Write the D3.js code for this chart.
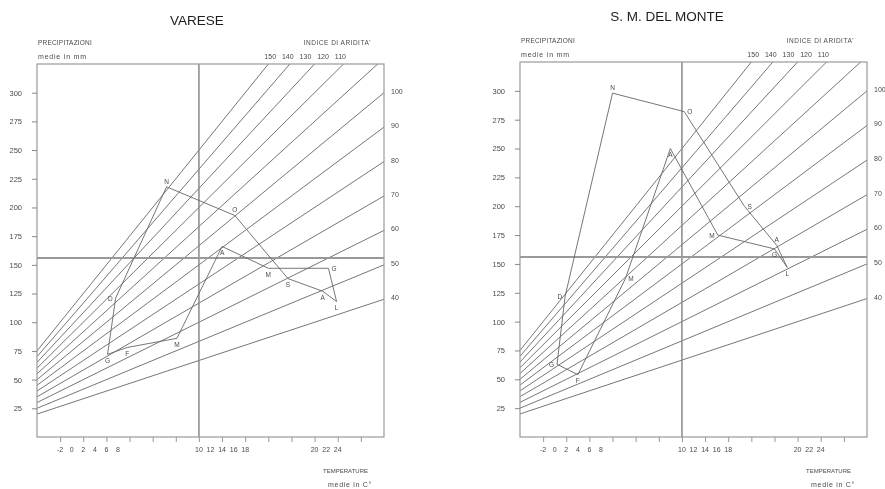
<!DOCTYPE html>
<html>
<head>
<meta charset="utf-8">
<script src="https://cdn.jsdelivr.net/npm/d3@7"></script>
<style>
  body { margin: 0; background: #fff; }
  svg { display: block; will-change: transform; }
  text { font-family: "Liberation Sans", Arial, sans-serif; }
</style>
</head>
<body>
<svg id="chart" width="885" height="489"></svg>
<script>
// Monthly climate diagrams (De Martonne aridity index i = 12p / (t + 10))
const months = ["G", "F", "M", "A", "M", "G", "L", "A", "S", "O", "N", "D"];

// Varese: mean monthly temperature (°C) and precipitation (mm)
const vareseTemp = [2.1, 3.8, 8.1, 12.0, 16.0, 21.2, 21.9, 20.7, 17.7, 13.1, 7.2, 2.8];
const vareseRain = [72, 78, 86, 166, 147, 147, 118, 127, 138, 193, 218, 121];

// S. M. del Monte: mean monthly temperature (°C) and precipitation (mm)
const monteTemp = [-0.8, 1.0, 5.1, 9.0, 13.1, 18.0, 19.1, 18.2, 15.4, 10.2, 4.0, -0.1];
const monteRain = [63, 54, 137, 250, 175, 163, 147, 166, 200, 282, 298, 122];

// Iso-lines of the aridity index
const aridityIndex = [150, 140, 130, 120, 110, 100, 90, 80, 70, 60, 50, 40];

// Axis ticks
const rainTicks = [25, 50, 75, 100, 125, 150, 175, 200, 225, 250, 275, 300];
const tempTicks = [-2, 0, 2, 4, 6, 8, 10, 12, 14, 16, 18, 20, 22, 24];
const tempLabelGroups = [[-2, 0, 2, 4, 6, 8], [10, 12, 14, 16, 18], [20, 22, 24]];

// Reference lines
const refTemp = 10;
const refRain = 156;

// Which side of each monthly vertex its initial sits on
const vareseLabelSide = ["below", "below", "below", "below", "below", "right", "below", "below", "below", "above", "above", "left"];
const monteLabelSide = ["left", "below", "right", "below", "left", "below", "below", "above", "right", "right", "above", "left"];

const tempDomain = [-4, 26];
const rainDomain = [0, 325];

const panels = [
  { title: "VARESE", temp: vareseTemp, rain: vareseRain, sides: vareseLabelSide, left: 37, top: 64, titleX: 197, titleY: 25 },
  { title: "S. M. DEL MONTE", temp: monteTemp, rain: monteRain, sides: monteLabelSide, left: 520, top: 62, titleX: 667, titleY: 21 }
];

const sideOffset = {
  below: [0, 8.5, "middle"],
  above: [0, -3, "middle"],
  left: [-3, 2.5, "end"],
  right: [3, 2.5, "start"]
};

const plotWidth = 347;
const plotBottom = 437;
const svg = d3.select("#chart");
const textGrey = "#4a4a4a";

panels.forEach((panel, pi) => {
  const right = panel.left + plotWidth;
  const x = d3.scaleLinear().domain(tempDomain).range([panel.left, right]);
  const y = d3.scaleLinear().domain(rainDomain).range([plotBottom, panel.top]);
  const g = svg.append("g");

  const clipId = "plot-clip-" + pi;
  svg.append("clipPath").attr("id", clipId)
    .append("rect")
    .attr("x", panel.left).attr("y", panel.top)
    .attr("width", plotWidth).attr("height", plotBottom - panel.top);

  // Title
  g.append("text")
    .attr("x", panel.titleX).attr("y", panel.titleY)
    .attr("text-anchor", "middle")
    .attr("font-size", 13.5).attr("fill", "#1e1e1e")
    .text(panel.title);

  // Aridity index iso-lines: p = I * (t + 10) / 12
  const isoLine = d3.line().x(d => x(d[0])).y(d => y(d[1]));
  const plot = g.append("g").attr("clip-path", `url(#${clipId})`);
  plot.selectAll("path.iso")
    .data(aridityIndex)
    .join("path")
    .attr("class", "iso")
    .attr("d", I => isoLine(tempDomain.map(t => [t, I * (t + 10) / 12])))
    .attr("fill", "none")
    .attr("stroke", "#666")
    .attr("stroke-width", 0.9);

  // Reference lines
  plot.append("line")
    .attr("x1", x(refTemp)).attr("x2", x(refTemp))
    .attr("y1", panel.top).attr("y2", plotBottom)
    .attr("stroke", "#888").attr("stroke-width", 1.5);
  plot.append("line")
    .attr("x1", panel.left).attr("x2", right)
    .attr("y1", y(refRain)).attr("y2", y(refRain))
    .attr("stroke", "#999").attr("stroke-width", 2);

  // Frame
  g.append("rect")
    .attr("x", panel.left).attr("y", panel.top)
    .attr("width", plotWidth).attr("height", plotBottom - panel.top)
    .attr("fill", "none").attr("stroke", "#999").attr("stroke-width", 1.2);

  // Precipitation axis
  const yAxis = g.append("g")
    .attr("transform", `translate(${panel.left},0)`)
    .call(d3.axisLeft(y).tickValues(rainTicks).tickSize(5).tickPadding(10));
  yAxis.select(".domain").remove();
  yAxis.selectAll("line").attr("stroke", "#888");
  yAxis.selectAll("text").attr("font-size", 7.5).attr("fill", textGrey)
    .attr("font-family", "Liberation Sans, Arial, sans-serif");

  // Temperature axis (tick marks only; labels set in groups below)
  const xAxis = g.append("g")
    .attr("transform", `translate(0,${plotBottom})`)
    .call(d3.axisBottom(x).tickValues(tempTicks).tickSize(5).tickFormat(""));
  xAxis.select(".domain").remove();
  xAxis.selectAll("line").attr("stroke", "#999");

  tempLabelGroups.forEach(group => {
    g.selectAll(null)
      .data(group)
      .join("text")
      .attr("x", v => x(group[0] + (v - group[0]) / 2))
      .attr("y", plotBottom + 15)
      .attr("text-anchor", "middle")
      .attr("font-size", 7).attr("fill", textGrey)
      .text(v => v);
  });

  // Index labels: those leaving through the top, and those reaching the right edge
  const tMax = tempDomain[1];
  const topLabels = aridityIndex.filter(I => I * (tMax + 10) / 12 > rainDomain[1]);
  const sideLabels = aridityIndex.filter(I => I * (tMax + 10) / 12 <= rainDomain[1]);

  g.selectAll("text.side")
    .data(sideLabels)
    .join("text")
    .attr("class", "side")
    .attr("x", right + 7)
    .attr("y", I => y(I * (tMax + 10) / 12) + 1)
    .attr("font-size", 7).attr("fill", textGrey)
    .text(I => I);

  g.append("text")
    .attr("x", right - 38).attr("y", panel.top - 5)
    .attr("text-anchor", "end")
    .attr("font-size", 7).attr("word-spacing", 4).attr("fill", textGrey)
    .text(topLabels.join(" "));

  g.append("text")
    .attr("x", right - 13).attr("y", panel.top - 19)
    .attr("text-anchor", "end")
    .attr("font-size", 6.5).attr("letter-spacing", 0.5).attr("fill", textGrey)
    .text("INDICE DI ARIDITA'");

  g.append("text")
    .attr("x", panel.left + 1).attr("y", panel.top - 19)
    .attr("font-size", 6.5).attr("letter-spacing", 0.2).attr("fill", textGrey)
    .text("PRECIPITAZIONI");
  g.append("text")
    .attr("x", panel.left + 1).attr("y", panel.top - 5)
    .attr("font-size", 7).attr("letter-spacing", 0.8).attr("fill", textGrey)
    .text("medie in mm");

  g.append("text")
    .attr("x", right - 16).attr("y", plotBottom + 36)
    .attr("text-anchor", "end")
    .attr("font-size", 6).attr("fill", textGrey)
    .text("TEMPERATURE");
  g.append("text")
    .attr("x", right - 12).attr("y", plotBottom + 50)
    .attr("text-anchor", "end")
    .attr("font-size", 7).attr("letter-spacing", 0.7).attr("fill", textGrey)
    .text("medie in C°");

  // Monthly climate polygon
  const pts = panel.temp.map((t, i) => [x(t), y(panel.rain[i])]);
  g.append("path")
    .attr("d", d3.line().curve(d3.curveLinearClosed)(pts))
    .attr("fill", "none")
    .attr("stroke", "#666")
    .attr("stroke-width", 0.9);

  // Month initials
  g.selectAll("text.month")
    .data(pts)
    .join("text")
    .attr("class", "month")
    .attr("x", (d, i) => d[0] + sideOffset[panel.sides[i]][0])
    .attr("y", (d, i) => d[1] + sideOffset[panel.sides[i]][1])
    .attr("text-anchor", (d, i) => sideOffset[panel.sides[i]][2])
    .attr("font-size", 6.5).attr("fill", textGrey)
    .text((d, i) => months[i]);
});
</script>
</body>
</html>
